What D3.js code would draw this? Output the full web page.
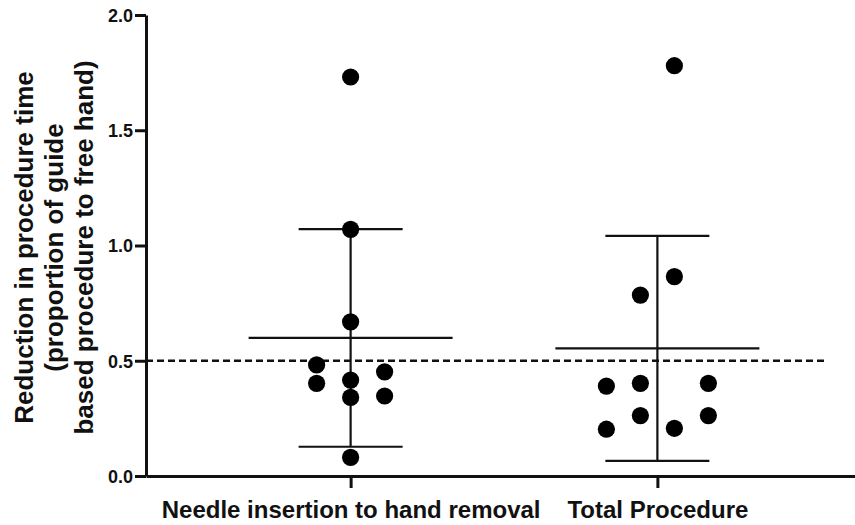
<!DOCTYPE html>
<html>
<head>
<meta charset="utf-8">
<script src="https://cdnjs.cloudflare.com/ajax/libs/d3/7.8.5/d3.min.js"></script>
<style>
  body { margin: 0; background: #fff; }
  text { font-family: "Liberation Sans", Arial, sans-serif; font-weight: bold; fill: #111; }
</style>
</head>
<body>
<svg class="chart"></svg>
<script>
var W = 855, H = 525;
var m = [15, 0, 49, 146];   // top right bottom left

var categories = ["Needle insertion to hand removal", "Total Procedure"];
// individual values per group, with the column slot used by the scatter
var needleVals  = [1.731, 1.070, 0.669, 0.482, 0.402, 0.416, 0.341, 0.452, 0.347, 0.081];
var needleSlots = [0, 0, 0, -1, -1, 0, 0, 1, 1, 0];
var totalVals   = [1.780, 0.865, 0.785, 0.390, 0.402, 0.402, 0.262, 0.262, 0.203, 0.207];
var totalSlots  = [0.5, 0.5, -0.5, -1.5, -0.5, 1.5, -0.5, 1.5, -1.5, 0.5];
var means = [0.599, 0.554];
var sds   = [0.472, 0.488];
var yTicks = [0, 0.5, 1.0, 1.5, 2.0];
var refLine = 0.5;
var yTitle = ["Reduction in procedure time", "(proportion of guide", "based procedure to free hand)"];

var h = H - m[0] - m[2];

var svg = d3.select(".chart").attr("width", W).attr("height", H);

var y = d3.scaleLinear().domain([0, 2]).range([H - m[2], m[0]]);
var x = d3.scalePoint().domain(categories).range([m[3], 862]).padding(0.667);
var slot = d3.scaleLinear().domain([-1, 1]).range([-34, 34]);

var groups = [
  { cat: categories[0], vals: needleVals, slots: needleSlots, mean: means[0], sd: sds[0] },
  { cat: categories[1], vals: totalVals, slots: totalSlots, mean: means[1], sd: sds[1] }
];

// reference line at 0.5
svg.append("line")
  .attr("x1", m[3]).attr("x2", x(categories[1]) + 170)
  .attr("y1", y(refLine)).attr("y2", y(refLine))
  .attr("stroke", "#111").attr("stroke-width", 2.5)
  .attr("stroke-dasharray", "7,4");

// axes
var yAxis = svg.append("g")
  .attr("transform", "translate(" + m[3] + ",0)")
  .call(d3.axisLeft(y).tickValues(yTicks).tickFormat(d3.format(".1f")).tickSize(11).tickPadding(2).tickSizeOuter(0));
var xAxis = svg.append("g")
  .attr("transform", "translate(0," + y(0) + ")")
  .call(d3.axisBottom(x).tickSize(12).tickPadding(13).tickSizeOuter(0));

[yAxis, xAxis].forEach(function(a) {
  a.select(".domain").attr("stroke", "#111").attr("stroke-width", 3);
  a.selectAll(".tick line").attr("stroke", "#111").attr("stroke-width", 3);
});
yAxis.selectAll(".tick text").style("font-size", "18px").attr("dy", "0.36em");
xAxis.selectAll(".tick text").style("font-size", "24px").attr("dy", "0.71em");

// mean +- SD bars
var bars = svg.selectAll(".err").data(groups).enter().append("g").attr("class", "err");
bars.append("line")
  .attr("x1", function(d) { return x(d.cat); }).attr("x2", function(d) { return x(d.cat); })
  .attr("y1", function(d) { return y(d.mean + d.sd); }).attr("y2", function(d) { return y(d.mean - d.sd); });
bars.append("line")
  .attr("x1", function(d) { return x(d.cat) - 102; }).attr("x2", function(d) { return x(d.cat) + 102; })
  .attr("y1", function(d) { return y(d.mean); }).attr("y2", function(d) { return y(d.mean); });
bars.selectAll(".cap").data(function(d) { return [
    { cat: d.cat, v: d.mean + d.sd }, { cat: d.cat, v: d.mean - d.sd }]; })
  .enter().append("line").attr("class", "cap")
  .attr("x1", function(d) { return x(d.cat) - 52; }).attr("x2", function(d) { return x(d.cat) + 52; })
  .attr("y1", function(d) { return y(d.v); }).attr("y2", function(d) { return y(d.v); });
bars.selectAll("line").attr("stroke", "#111").attr("stroke-width", 2.2);

// points
groups.forEach(function(g) {
  svg.selectAll(null).data(g.vals).enter().append("circle")
    .attr("cx", function(d, i) { return x(g.cat) + slot(g.slots[i]); })
    .attr("cy", function(d) { return y(d); })
    .attr("r", 8.6)
    .attr("fill", "#000");
});

// y title
svg.append("text")
  .attr("transform", "translate(0," + (m[0] + h / 2 + 2) + ") rotate(-90)")
  .attr("text-anchor", "middle")
  .style("font-size", "26px")
  .selectAll("tspan").data(yTitle).enter().append("tspan")
  .attr("x", 0).attr("y", function(d, i) { return 33 + i * 30; })
  .text(String);
</script>
</body>
</html>
